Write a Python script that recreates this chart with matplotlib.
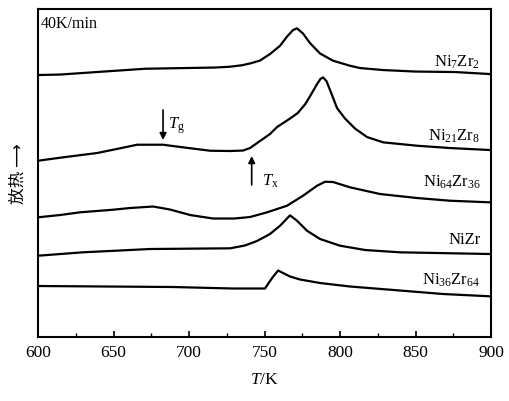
import matplotlib
matplotlib.use("Agg")
import matplotlib.pyplot as plt
from matplotlib.ticker import MultipleLocator

# DSC curves, heat flow in arbitrary units (curves offset vertically)
t_ni7zr2 = [600, 614.6, 670.9, 717.2, 727.0, 735.1, 741.0, 747.0, 753.6, 760.3, 764.9, 768.9, 771.5,
            775.5, 780.1, 786.8, 795.4, 806.6, 813.2, 828.5, 849.7, 876.2, 899.3]
q_ni7zr2 = [262, 262.5, 268.3, 269.5, 270.3, 271.8, 273.8, 276.5, 283, 291.3, 300.5, 307, 308.7,
            303.5, 294, 283.5, 276.3, 271.3, 269, 267, 265.5, 265, 263]

t_ni21zr8 = [600, 616.6, 639.1, 654.3, 665.6, 682.8, 696.0, 713.9, 727.2, 735.8, 740.4,
             747.0, 753.6, 758.3, 766.9, 772.0, 777.0, 781.0, 784.8, 787.0, 788.7, 791.0,
             793.4, 798.0, 803.3, 809.9, 817.9, 828.5, 851.0, 872.8, 899.3]
q_ni21zr8 = [176.3, 179.7, 184, 188.7, 192.3, 192.3, 189.7, 186.3, 186, 186.5, 189,
             196, 203, 210, 218.5, 224, 233, 243, 253, 258, 259.7, 256,
             247, 229, 218.5, 208.5, 200, 194.7, 191.3, 189, 187]

t_ni64zr36 = [600, 614.6, 627.8, 649.7, 660.9, 676.2, 687.4, 700.7, 715.9, 730.0, 740.4, 751.7,
              764.9, 775.5, 784.8, 790.1, 795.4, 806.6, 826.5, 851.0, 872.8, 899.3]
q_ni64zr36 = [119.7, 122, 124.7, 127.3, 129, 130.5, 127.5, 122, 118.5, 118.5, 120, 124.7,
              131.3, 141.3, 151.3, 155.3, 155, 149.7, 143, 139, 136.3, 134.7]

t_nizr = [600, 629.8, 674.2, 727.2, 737.0, 745.0, 753.6, 760.3, 766.9, 771.5, 778.1, 786.8,
          800.0, 816.6, 839.7, 899.3]
q_nizr = [81.3, 84.7, 88, 88.7, 91.5, 96, 103, 111.3, 121.7, 116.3, 106.3, 98,
          91.3, 87, 84.7, 83]

t_ni36zr64 = [600, 689.4, 729.1, 750.3, 755.0, 759.0, 766.9, 773.5, 786.8, 806.6, 839.7,
              868.2, 899.3]
q_ni36zr64 = [51, 50, 48.5, 48.5, 59, 66.5, 60.5, 57.5, 54, 50.5, 46.5,
              43, 40.7]

curves = [
    (t_ni7zr2, q_ni7zr2, r"Ni$_7$Zr$_2$", 276),
    (t_ni21zr8, q_ni21zr8, r"Ni$_{21}$Zr$_8$", 202),
    (t_ni64zr36, q_ni64zr36, r"Ni$_{64}$Zr$_{36}$", 156),
    (t_nizr, q_nizr, "NiZr", 98),
    (t_ni36zr64, q_ni36zr64, r"Ni$_{36}$Zr$_{64}$", 58),
]

# glass transition / crystallisation onset of Ni21Zr8
tg = 682.8
tx = 741.5

plt.rcParams["mathtext.fontset"] = "custom"
plt.rcParams["mathtext.rm"] = "Liberation Serif"
plt.rcParams["mathtext.it"] = "Liberation Serif:italic"
plt.rcParams["font.family"] = ["Liberation Serif", "Noto Sans CJK SC"]

fig = plt.figure(figsize=(5.09, 4.02), dpi=100)
ax = fig.add_axes([0.0747, 0.1592, 0.89, 0.8158])

for t, q, name, ly in curves:
    ax.plot(t, q, color="black", lw=1.6)
    ax.text(893, ly, name, ha="right", va="center", fontsize=12)

ax.annotate("", xy=(tg, 197), xytext=(tg, 227),
            arrowprops=dict(arrowstyle="-|>", color="black", lw=1.2,
                            mutation_scale=10, shrinkA=0, shrinkB=0))
ax.text(tg + 3, 212, r"$T_{\rm g}$", fontsize=12, va="center")
ax.annotate("", xy=(tx, 181), xytext=(tx, 152),
            arrowprops=dict(arrowstyle="-|>", color="black", lw=1.2,
                            mutation_scale=10, shrinkA=0, shrinkB=0))
ax.text(tx + 7, 157, r"$T_{\rm x}$", fontsize=12, va="center")

ax.text(602, 314, "40K/min", fontsize=11.5, va="center")

ax.set_xlim(600, 900)
ax.set_ylim(0, 328)
ax.xaxis.set_major_locator(MultipleLocator(50))
ax.xaxis.set_minor_locator(MultipleLocator(25))
ax.tick_params(axis="x", which="major", direction="in", length=4, width=1.2,
               labelsize=12.5, pad=5)
ax.tick_params(axis="x", which="minor", direction="in", length=3, width=1.0)
ax.set_yticks([])
for s in ax.spines.values():
    s.set_linewidth(1.5)

ax.set_xlabel(r"$T$/K", fontsize=12.5, labelpad=8)
ax.set_ylabel("放热 ⟶", fontsize=12, family=["Noto Sans CJK SC", "DejaVu Sans"],
              labelpad=8)

fig.savefig("out.png", dpi=100)
